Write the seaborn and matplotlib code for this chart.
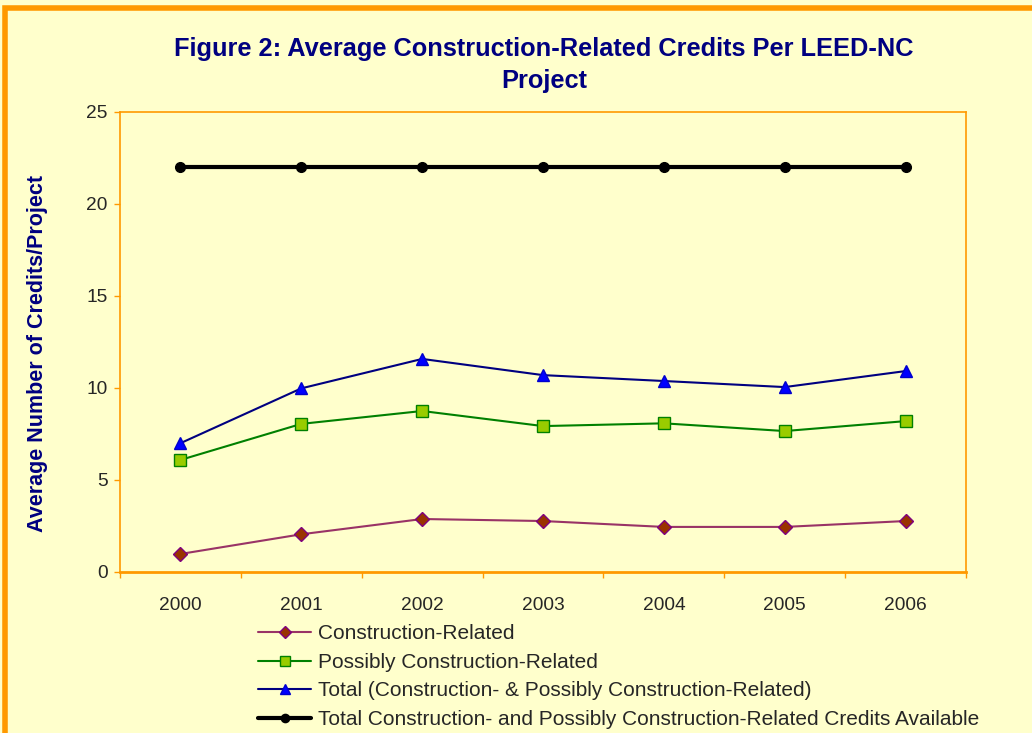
import matplotlib
matplotlib.use("Agg")
import matplotlib.pyplot as plt
from matplotlib.patches import Rectangle
import seaborn as sns
import pandas as pd

years = ["2000", "2001", "2002", "2003", "2004", "2005", "2006"]
construction_related = [0.98, 2.05, 2.88, 2.77, 2.45, 2.45, 2.77]
possibly_related = [6.09, 8.05, 8.75, 7.93, 8.08, 7.66, 8.2]
total_related = [7.0, 9.98, 11.58, 10.7, 10.38, 10.05, 10.92]
total_available = [22, 22, 22, 22, 22, 22, 22]

series_names = [
    "Construction-Related",
    "Possibly Construction-Related",
    "Total (Construction- & Possibly Construction-Related)",
    "Total Construction- and Possibly Construction-Related Credits Available",
]

sns.set_style("white")
plt.rcParams['font.family'] = ['Liberation Sans', 'DejaVu Sans']

BG = "#FFFFCC"
ORANGE = "#FF9900"
NAVY = "#000080"

fig = plt.figure(figsize=(10.32, 7.33), dpi=100, facecolor=BG)
ax = fig.add_axes([120/1032, 1-572/733, 846/1032, 460/733])
ax.set_facecolor(BG)

xpos = list(range(len(years)))
styles = [
    dict(color="#993366", marker="D", mfc="#993300", mec="#800080", ms=7, lw=1.5),
    dict(color="#008000", marker="s", mfc="#99CC00", mec="#008000", ms=8, lw=1.5),
    dict(color="#000080", marker="^", mfc="#0000FF", mec="#0000CC", ms=9, lw=1.5),
    dict(color="#000000", marker="o", mfc="#000000", mec="#000000", ms=7, lw=3),
]
for vals, name, st in zip([construction_related, possibly_related, total_related, total_available], series_names, styles):
    sns.lineplot(x=xpos, y=vals, ax=ax, label=name, color=st["color"], marker=st["marker"],
                 markerfacecolor=st["mfc"], markeredgecolor=st["mec"], markersize=st["ms"],
                 linewidth=st["lw"], markeredgewidth=1)

ax.set_xlim(-0.5, len(years) - 0.5)
ax.set_ylim(0, 25)
ax.set_yticks([0, 5, 10, 15, 20, 25])
ax.set_xticks([i - 0.5 for i in range(len(years) + 1)])
ax.set_xticklabels([])
ax.set_xticks(xpos, minor=True)
ax.set_xticklabels(years, minor=True)
ax.tick_params(axis="x", which="major", length=4, color=ORANGE, width=1, direction="out", bottom=True)
ax.tick_params(axis="x", which="minor", length=0, labelsize=13.75, pad=18)
ax.tick_params(axis="y", length=4, color=ORANGE, width=1, direction="out", left=True, labelsize=13.75, pad=5)
for sp in ax.spines.values():
    sp.set_color(ORANGE)
    sp.set_linewidth(1.2)
ax.spines["bottom"].set_linewidth(2)

ax.set_ylabel("Average Number of Credits/Project", color=NAVY, fontsize=15.5, fontweight="bold")
ax.yaxis.set_label_coords(-0.085, 0.476)

fig.text(0.527, 0.95, "Figure 2: Average Construction-Related Credits Per LEED-NC\nProject",
         ha="center", va="top", fontsize=18.3, fontweight="bold", color=NAVY, linespacing=1.45)

ax.get_legend().remove()
handles, labels = ax.get_legend_handles_labels()
leg = fig.legend(handles, labels, loc="upper left", bbox_to_anchor=(250/1032, 1-616/733),
                 frameon=False, fontsize=15, handlelength=2.55, handletextpad=0.3,
                 labelspacing=0.46, borderaxespad=0, markerscale=0.85)

fig.patches.append(Rectangle((5/1032, -0.1), 1.2, 1 - 8/733 + 0.1, transform=fig.transFigure,
                             fill=False, edgecolor=ORANGE, linewidth=4, zorder=0))

fig.savefig("out.png", dpi=100, facecolor=BG)
